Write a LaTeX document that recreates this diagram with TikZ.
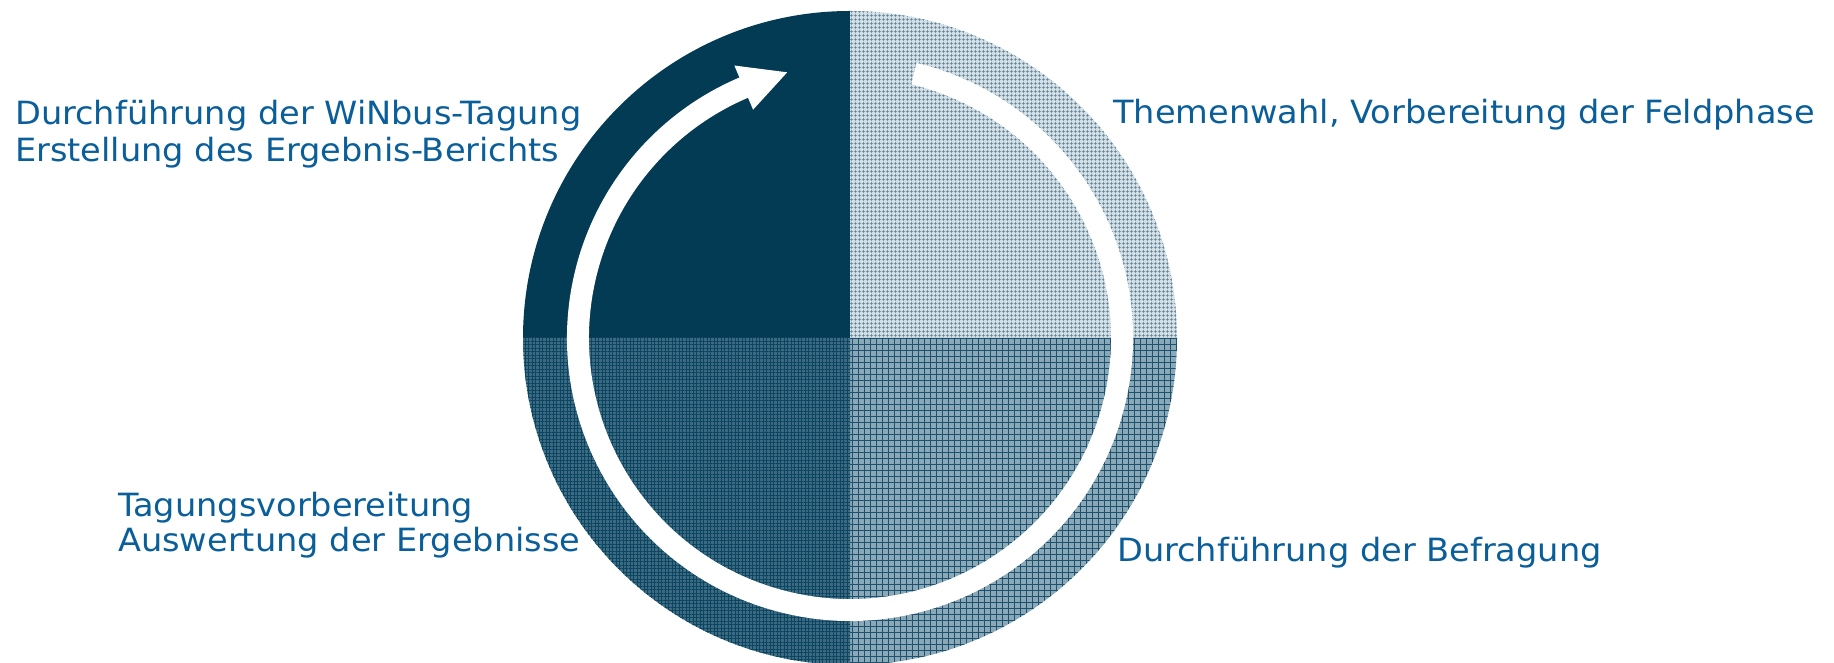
\documentclass[tikz,border=0pt]{standalone}
\usepackage{fontspec}
\setmainfont{DejaVu Sans}[FakeStretch=1.05]
\usetikzlibrary{patterns.meta,calc}
\definecolor{txtblue}{HTML}{0A5E9A}
\definecolor{qdark}{HTML}{033B54}
\definecolor{qlight}{HTML}{D3DFE5}
\definecolor{qlightline}{HTML}{557C8F}
\definecolor{qbl}{HTML}{3C6A82}
\definecolor{qblline}{HTML}{0B4560}
\definecolor{qbr}{HTML}{8AA8B5}
\definecolor{qbrline}{HTML}{1C5270}
\tikzset{
  lbl/.style={text=txtblue, inner sep=0pt, anchor=base west, font=\fontsize{32}{38}\selectfont}
}
\begin{document}
\begin{tikzpicture}[x=1pt,y=1pt]
\useasboundingbox (0,0) rectangle (1834,663);
\clip (0,0) rectangle (1834,663);
\coordinate (c) at (850,325);
% quadrants
\fill[qdark] (c) -- ++(180:327) arc[start angle=180,end angle=90,radius=327] -- cycle;
\fill[qlight] (c) -- ++(90:327) arc[start angle=90,end angle=0,radius=327] -- cycle;
\fill[pattern={Hatch[angle=0,distance=4pt,line width=0.8pt]},pattern color=qlightline] (c) -- ++(90:327) arc[start angle=90,end angle=0,radius=327] -- cycle;
\fill[qbr] (c) -- ++(0:327) arc[start angle=0,end angle=-90,radius=327] -- cycle;
\fill[pattern={Hatch[angle=0,distance=6pt,line width=1pt]},pattern color=qbrline] (c) -- ++(0:327) arc[start angle=0,end angle=-90,radius=327] -- cycle;
\fill[qbl] (c) -- ++(-90:327) arc[start angle=-90,end angle=-180,radius=327] -- cycle;
\fill[pattern={Hatch[angle=0,distance=3.5pt,line width=0.9pt]},pattern color=qblline] (c) -- ++(-90:327) arc[start angle=-90,end angle=-180,radius=327] -- cycle;
% white cycle arrow
\draw[white,line width=22pt] ($(c)+(76.4:272)$) arc[start angle=76.4,end angle=-247.5,radius=272];
\coordinate (ab1) at ($(c)+(113:296)$);
\coordinate (ab2) at ($(c)+(113:248)$);
\coordinate (atip) at ($(c)+(103.3:273)$);
\fill[white] (ab1) -- (atip) -- (ab2) -- cycle;
% labels
\node[lbl] (l1) at (15,538) {Durchführung der WiNbus-Tagung};
\node[lbl] (l2) at (15,501) {Erstellung des Ergebnis-Berichts};
\node[lbl] (r1) at (1113,539) {Themenwahl, Vorbereitung der Feldphase};
\node[lbl] (l3) at (118,146) {Tagungsvorbereitung};
\node[lbl] (l4) at (118,111) {Auswertung der Ergebnisse};
\node[lbl] (r2) at (1117,101) {Durchführung der Befragung};
\end{tikzpicture}
\end{document}
